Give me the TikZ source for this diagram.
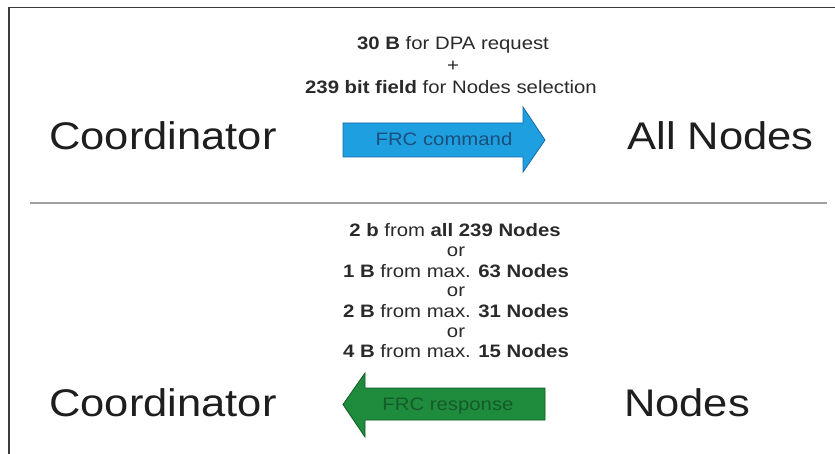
\documentclass[tikz,border=0pt]{standalone}
\usepackage{fontspec}
\setmainfont{Liberation Sans}[FakeStretch=1.13]
\definecolor{bigtxt}{HTML}{1E1E1E}
\definecolor{smalltxt}{HTML}{2A2A2A}
\definecolor{framecol}{HTML}{3A3A3A}
\definecolor{sepcol}{HTML}{A0A0A0}
\definecolor{bluefill}{HTML}{1E9FE0}
\definecolor{blueline}{HTML}{1668A8}
\definecolor{bluetxt}{HTML}{1B4F7C}
\definecolor{greenfill}{HTML}{1E8C3C}
\definecolor{greenline}{HTML}{0F5A25}
\definecolor{greentxt}{HTML}{155A2A}
\tikzset{
  big/.style={font=\fontsize{38.5}{44}\selectfont, text=bigtxt, inner sep=0pt, anchor=base},
  small/.style={font=\fontsize{18}{22}\selectfont, text=smalltxt, inner sep=0pt, anchor=base},
  arrtxt/.style={font=\fontsize{18}{22}\selectfont, inner sep=0pt, anchor=base},
}
\begin{document}
\begin{tikzpicture}[x=1pt,y=-1pt]
\useasboundingbox (0,0) rectangle (835,454);
\fill[white] (0,0) rectangle (835,454);
% frame
\draw[framecol, line width=1.5pt] (9,454) -- (9,7.5) -- (835,7.5);
% separator
\draw[sepcol, line width=2pt] (30,203.5) -- (827,203.5);
% top section
\node[small] (t1) at (453,50) {\textbf{30 B} for DPA request};
\node[small] (t2) at (453,72) {+};
\node[small] (t3) at (451,94) {\textbf{239 bit field} for Nodes selection};
\node[big] (coord1) at (163,150) {Coordinator};
\node[big] (allnodes) at (720.5,150) {All Nodes};
\draw[blueline, fill=bluefill, line width=0.8pt]
  (343,123) -- (523,123) -- (523,107) -- (545,140) -- (523,172) -- (523,157) -- (343,157) -- cycle;
\node[arrtxt, text=bluetxt] (cmd) at (444,146) {FRC command};
% bottom section
\node[small] (b1) at (455,237) {\textbf{2 b} from \textbf{all 239 Nodes}};
\node[small] (b2) at (456,257) {or};
\node[small] (b3) at (456,277) {\textbf{1 B} from max. \textbf{63 Nodes}};
\node[small] (b4) at (456,297) {or};
\node[small] (b5) at (456,317) {\textbf{2 B} from max. \textbf{31 Nodes}};
\node[small] (b6) at (456,337) {or};
\node[small] (b7) at (456,357) {\textbf{4 B} from max. \textbf{15 Nodes}};
\node[big] (coord2) at (163,416) {Coordinator};
\node[big] (nodes) at (687,416) {Nodes};
\draw[greenline, fill=greenfill, line width=0.8pt]
  (343,404.5) -- (365,373) -- (365,388) -- (545,388) -- (545,420) -- (365,420) -- (365,437) -- cycle;
\node[arrtxt, text=greentxt] (resp) at (448,410) {FRC response};
\end{tikzpicture}
\end{document}
